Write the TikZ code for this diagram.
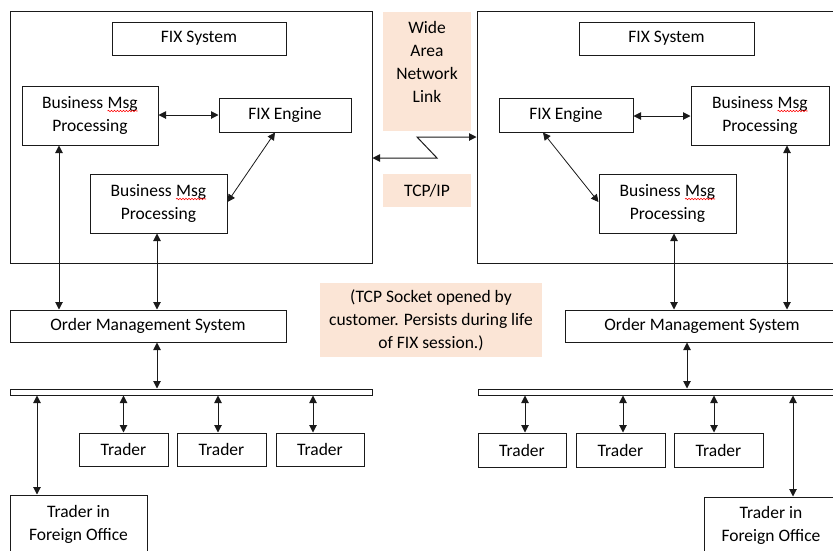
\documentclass[tikz,border=0pt]{standalone}
\usepackage{fontspec}
\setmainfont{Carlito}
\usetikzlibrary{arrows.meta,decorations.pathmorphing}
\definecolor{peach}{HTML}{FBE5D6}
\definecolor{lineclr}{HTML}{1A1A1A}
\newcommand{\spellmark}[1]{\tikz[baseline=(sw.base),x=1pt,y=1pt]{\node[inner sep=0pt,outer sep=0pt,draw=none,fill=none,minimum width=0pt,minimum height=0pt](sw){#1};\draw[red,line width=0.6pt,decorate,decoration={snake,amplitude=0.7pt,segment length=3pt}]([yshift=-2.5pt]sw.base west)--([yshift=-2.5pt]sw.base east);}}
\tikzset{
  box/.style={draw=lineclr,line width=1pt,inner sep=0pt,align=center,
    font=\fontsize{17.5}{23}\selectfont},
  note/.style={fill=peach,draw=none,inner sep=0pt,align=center,
    font=\fontsize{17.5}{23}\selectfont},
  arr/.style={lineclr,line width=1pt,{Triangle[length=7.5pt,width=7.5pt]}-{Triangle[length=7.5pt,width=7.5pt]}},
  thinarr/.style={lineclr,line width=0.8pt,{Triangle[length=7.5pt,width=7.5pt]}-{Triangle[length=7.5pt,width=7.5pt]}}
}
\begin{document}
\begin{tikzpicture}[x=1pt,y=-1pt]
\useasboundingbox (0,0) rectangle (833,550);
\clip (0,0) rectangle (833,550);
\fill[white] (0,0) rectangle (833,550);
% left side
\node[box,minimum width=362pt,minimum height=252pt] (bigL) at (191,137) {};
\node[box,minimum width=174pt,minimum height=33pt] (fixL) at (199,38.5) {FIX System};
\node[box,minimum width=136pt,minimum height=59pt] (bmp1L) at (90,115.5) {Business \spellmark{Msg}\\Processing};
\node[box,minimum width=132pt,minimum height=34pt] (engL) at (285,115) {FIX Engine};
\node[box,minimum width=137pt,minimum height=59pt] (bmp2L) at (158.5,203.5) {Business \spellmark{Msg}\\Processing};
\node[box,minimum width=276pt,minimum height=32pt] (omsL) at (148,326) {Order Management System};
\node[box,minimum width=362pt,minimum height=6pt] (busL) at (191,392) {};
\node[box,minimum width=89pt,minimum height=33pt] (trL1) at (123.5,449.5) {Trader};
\node[box,minimum width=89pt,minimum height=33pt] (trL2) at (221.5,449.5) {Trader};
\node[box,minimum width=88pt,minimum height=33pt] (trL3) at (320,449.5) {Trader};
\node[box,minimum width=137pt,minimum height=59pt] (forL) at (78.5,524.5) {Trader in\\Foreign Office};
% right side
\node[box,minimum width=363pt,minimum height=252pt] (bigR) at (658.5,137) {};
\node[box,minimum width=175pt,minimum height=33pt] (fixR) at (666.5,38.5) {FIX System};
\node[box,minimum width=134pt,minimum height=34pt] (engR) at (566,115) {FIX Engine};
\node[box,minimum width=138pt,minimum height=59pt] (bmp1R) at (760,115.5) {Business \spellmark{Msg}\\Processing};
\node[box,minimum width=137pt,minimum height=59pt] (bmp2R) at (667.5,203.5) {Business \spellmark{Msg}\\Processing};
\node[box,minimum width=274pt,minimum height=32pt] (omsR) at (702,326) {Order Management System};
\node[box,minimum width=362pt,minimum height=6pt] (busR) at (659,392) {};
\node[box,minimum width=88pt,minimum height=34pt] (trR1) at (522,450) {Trader};
\node[box,minimum width=89pt,minimum height=34pt] (trR2) at (620.5,450) {Trader};
\node[box,minimum width=89pt,minimum height=34pt] (trR3) at (718.5,450) {Trader};
\node[box,minimum width=134pt,minimum height=57pt] (forR) at (771,525.5) {Trader in\\Foreign Office};
% middle notes
\node[note,minimum width=88pt,minimum height=119pt] (wan) at (427,71.5) {Wide\\Area\\Network\\Link\\[-10pt]\strut};
\node[note,minimum width=88pt,minimum height=33pt] (tcp) at (427,190.5) {TCP/IP};
\node[note,minimum width=222pt,minimum height=74pt] (sock) at (431,320) {(TCP Socket opened by\\customer. Persists during life\\of FIX session.)};
% WAN link
\coordinate (c1) at (417,137);
\coordinate (c2) at (437,158);
\draw[arr] (bigL.east |- c2) -- (c2) -- (c1) -- (bigR.west |- c1);
% left connectors
\draw[arr] (bmp1L.east |- engL) -- (engL.west);
\draw[thinarr] ([xshift=-10pt]engL.south) -- ([yshift=1.5pt]bmp2L.east);
\draw[arr] (bmp1L.south -| 59,0) -- (omsL.north -| 59,0);
\draw[arr] (bmp2L.south -| 157,0) -- (omsL.north -| 157,0);
\draw[arr] (omsL.south -| 157,0) -- (busL.north -| 157,0);
\draw[arr] (busL.south -| trL1) -- (trL1.north);
\draw[arr] (busL.south -| 218,0) -- (trL2.north -| 218,0);
\draw[arr] (busL.south -| 313,0) -- (trL3.north -| 313,0);
\draw[arr] (busL.south -| 37,0) -- (forL.north -| 37,0);
% right connectors
\draw[arr] (engR.east |- 0,116) -- (bmp1R.west |- 0,116);
\draw[thinarr] ([xshift=-23pt]engR.south) -- ([yshift=1.5pt]bmp2R.west);
\draw[arr] (bmp2R.south -| 674,0) -- (omsR.north -| 674,0);
\draw[arr] (bmp1R.south -| 787,0) -- (omsR.north -| 787,0);
\draw[arr] (omsR.south -| 687,0) -- (busR.north -| 687,0);
\draw[arr] (busR.south -| 525,0) -- (trR1.north -| 525,0);
\draw[arr] (busR.south -| 623,0) -- (trR2.north -| 623,0);
\draw[arr] (busR.south -| 714,0) -- (trR3.north -| 714,0);
\draw[arr] (busR.south -| 793,0) -- (forR.north -| 793,0);
\end{tikzpicture}
\end{document}
